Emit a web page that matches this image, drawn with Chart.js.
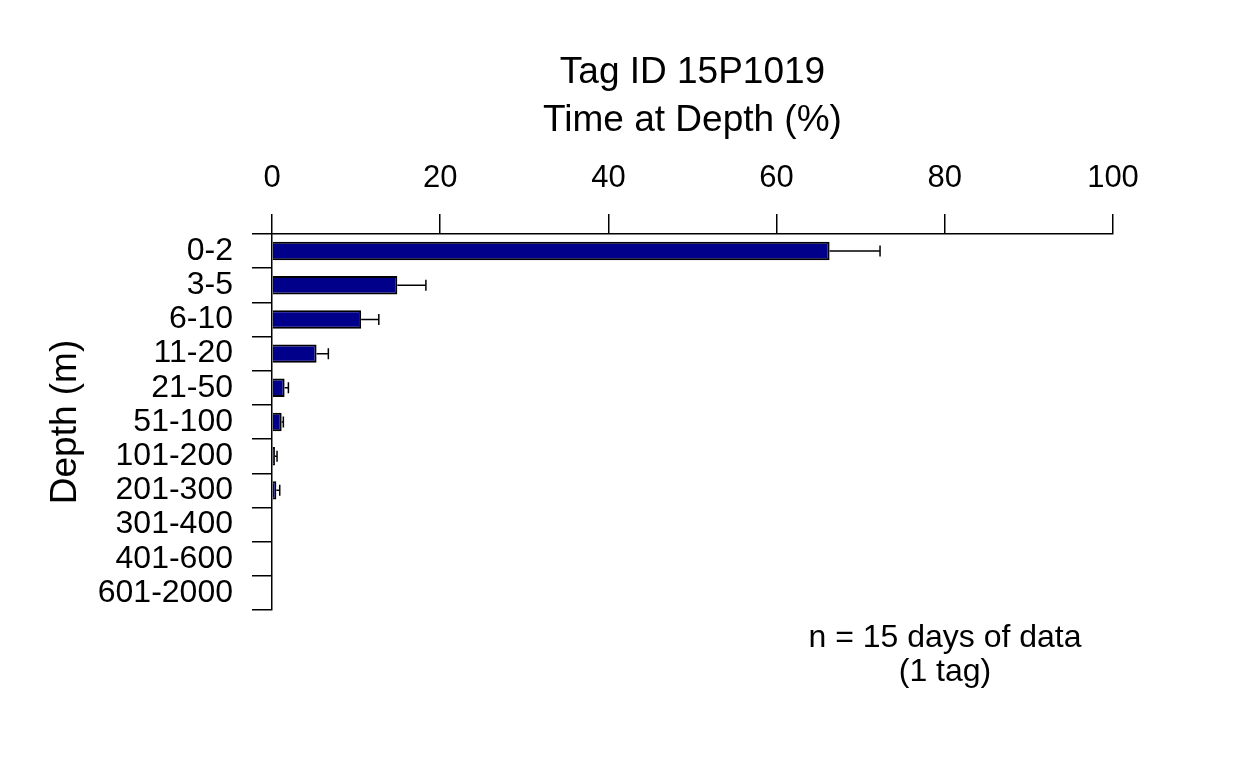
<!DOCTYPE html>
<html>
<head>
<meta charset="utf-8">
<script src="https://cdn.jsdelivr.net/npm/chart.js@4"></script>
<style>
  body { margin: 0; background: #fff; }
  #wrap { width: 1248px; height: 768px; }
</style>
</head>
<body>
<div id="wrap"><canvas id="myChart"></canvas></div>
<script>
var depths = ["0-2", "3-5", "6-10", "11-20", "21-50", "51-100", "101-200", "201-300", "301-400", "401-600", "601-2000"];
var timeAtDepth = [66.3, 14.9, 10.6, 5.3, 1.5, 1.15, 0.35, 0.52, 0, 0, 0];
var errorUpper = [6.0, 3.4, 2.1, 1.4, 0.45, 0.2, 0.25, 0.4, 0, 0, 0];
var xTicks = [0, 20, 40, 60, 80, 100];

var fontFamily = "'Liberation Sans', Arial, Helvetica, sans-serif";

// error bars, only the upper half shows in the original
var errorBars = {
  id: 'errorBars',
  afterDatasetsDraw: function (chart) {
    var ctx = chart.ctx;
    var xs = chart.scales.x, ys = chart.scales.y;
    ctx.save();
    ctx.strokeStyle = '#000';
    ctx.lineWidth = 1.5;
    for (var i = 0; i < timeAtDepth.length; i++) {
      if (!errorUpper[i]) continue;
      var x0 = xs.getPixelForValue(timeAtDepth[i]);
      var x1 = xs.getPixelForValue(timeAtDepth[i] + errorUpper[i]);
      var y = ys.getPixelForValue(i);
      ctx.beginPath();
      ctx.moveTo(x0, y);
      ctx.lineTo(x1, y);
      ctx.moveTo(x1, y - 5.5);
      ctx.lineTo(x1, y + 5.5);
      ctx.stroke();
    }
    ctx.restore();
  }
};

var labelsText = {
  id: 'labelsText',
  afterDraw: function (chart) {
    var ctx = chart.ctx;
    var area = chart.chartArea;
    var cx = (area.left + area.right) / 2;
    ctx.save();
    ctx.fillStyle = '#000';
    ctx.textAlign = 'center';
    ctx.textBaseline = 'alphabetic';
    ctx.font = '37px ' + fontFamily;
    ctx.fillText('Tag ID 15P1019', cx, 83);
    ctx.fillText('Time at Depth (%)', cx, 131);

    ctx.save();
    ctx.translate(76, (area.top + area.bottom) / 2);
    ctx.rotate(-Math.PI / 2);
    ctx.fillText('Depth (m)', 0, 0);
    ctx.restore();

    ctx.font = '32px ' + fontFamily;
    ctx.fillText('n = 15 days of data', 945, 647);
    ctx.fillText('(1 tag)', 945, 681);
    ctx.restore();
  }
};

var ctx = document.getElementById("myChart");

var myChart = new Chart(ctx, {
  type: 'bar',
  data: {
    labels: depths,
    datasets: [{
      data: timeAtDepth,
      backgroundColor: '#00008B',
      borderColor: '#000',
      borderWidth: 2,
      barPercentage: 0.54,
      categoryPercentage: 1
    }]
  },
  options: {
    indexAxis: 'y',
    responsive: true,
    maintainAspectRatio: false,
    animation: false,
    layout: { padding: { left: 0, top: 0, right: 135, bottom: 158 } },
    plugins: {
      legend: { display: false },
      tooltip: { enabled: false }
    },
    scales: {
      x: {
        position: 'top',
        min: 0,
        max: 100,
        afterFit: function (s) { s.height = 234; },
        afterBuildTicks: function (s) {
          s.ticks = xTicks.map(function (v) { return { value: v }; });
        },
        grid: {
          drawOnChartArea: false,
          drawTicks: true,
          tickLength: 20,
          color: '#000',
          lineWidth: 1.5
        },
        border: { display: true, color: '#000', width: 1.5 },
        ticks: {
          color: '#000',
          padding: 17,
          maxRotation: 0,
          font: { size: 31, family: fontFamily }
        }
      },
      y: {
        afterFit: function (s) { s.width = 272; },
        grid: {
          offset: true,
          drawOnChartArea: false,
          drawTicks: true,
          tickLength: 20,
          color: '#000',
          lineWidth: 1.5
        },
        border: { display: true, color: '#000', width: 1.5 },
        ticks: {
          color: '#000',
          padding: 19,
          autoSkip: false,
          font: { size: 32, family: fontFamily }
        }
      }
    }
  },
  plugins: [errorBars, labelsText]
});
</script>
</body>
</html>
